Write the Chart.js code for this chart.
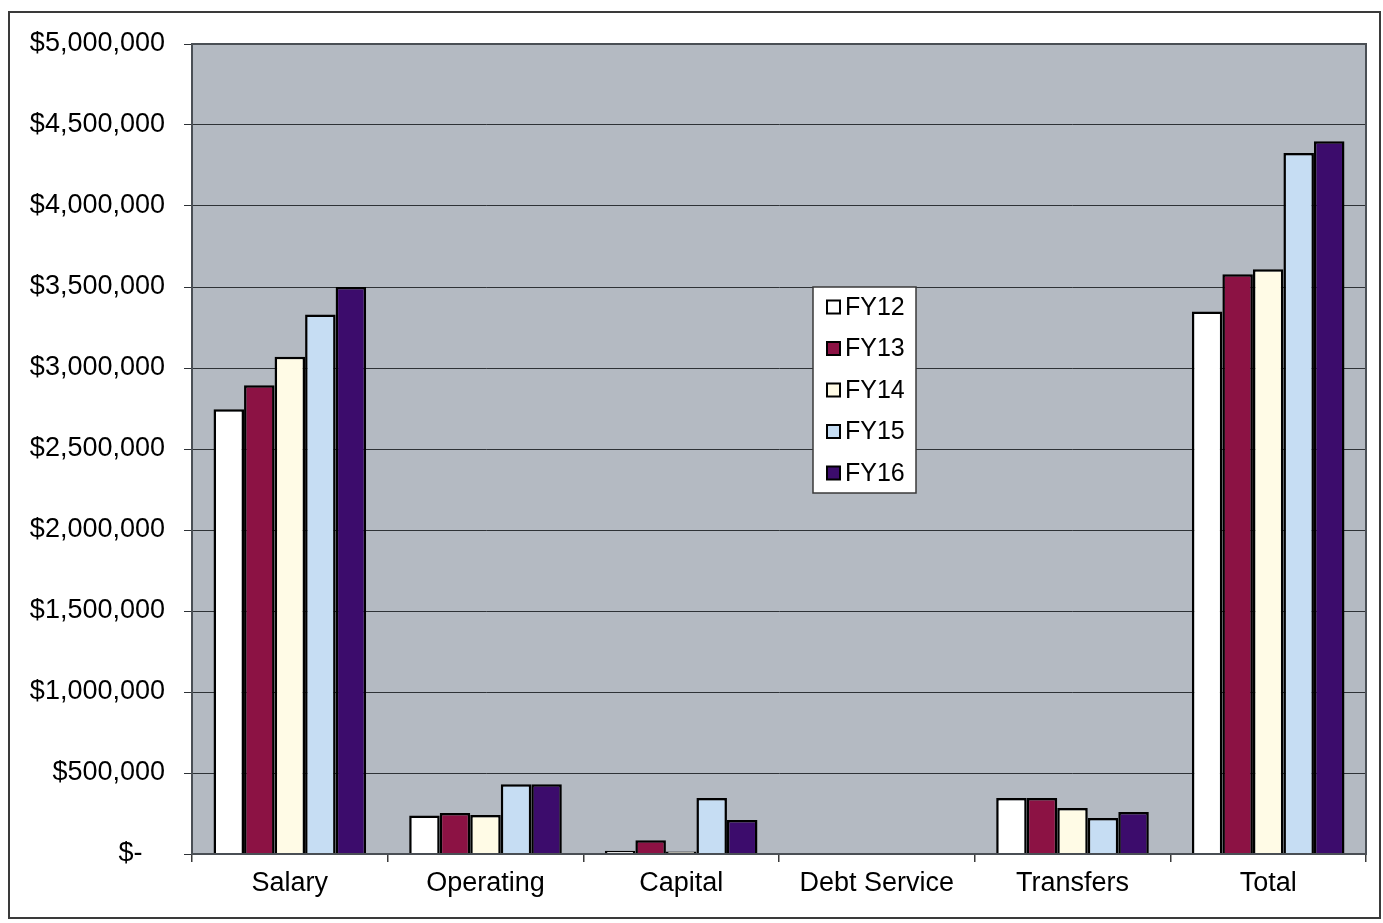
<!DOCTYPE html>
<html>
<head>
<meta charset="utf-8">
<title>Budget by Category FY12–FY16</title>
<script src="https://cdn.jsdelivr.net/npm/chart.js@4/dist/chart.umd.min.js"></script>
<style>
  html, body { margin: 0; padding: 0; background: #ffffff; }
  canvas { display: block; }
</style>
</head>
<body>
<canvas id="budgetChart" width="1383" height="923"></canvas>
<script>
// Budget categories along the x axis
const categories = ['Salary', 'Operating', 'Capital', 'Debt Service', 'Transfers', 'Total'];

// Fiscal-year series, one value per category (dollars)
const seriesNames = ['FY12', 'FY13', 'FY14', 'FY15', 'FY16'];
const fy12 = [2745000, 237000, 20000, 0, 346000, 3348000];
const fy13 = [2894000, 253000, 85000, 0, 346000, 3578000];
const fy14 = [3070000, 241000, 15000, 0, 284000, 3610000];
const fy15 = [3330000, 430000, 345000, 0, 222000, 4327000];
const fy16 = [3500000, 430000, 210000, 0, 259000, 4399000];
const seriesValues = [fy12, fy13, fy14, fy15, fy16];

// Value axis ticks
const yTickValues = [0, 500000, 1000000, 1500000, 2000000, 2500000, 3000000, 3500000, 4000000, 4500000, 5000000];

const seriesColors = ['#ffffff', '#8c1244', '#fffbe6', '#c6ddf3', '#3c0c6c'];
const FONT = '"Liberation Sans", Arial, sans-serif';

function formatDollars(v) {
  if (v === 0) return '$-   ';
  return '$' + v.toLocaleString('en-US');
}

// Page background, outer frame, plot area fill, plot border and the floating legend
const framePlugin = {
  id: 'frame',
  beforeDraw(chart) {
    const { ctx, chartArea: a } = chart;
    ctx.save();
    ctx.fillStyle = '#ffffff';
    ctx.fillRect(0, 0, chart.width, chart.height);
    ctx.strokeStyle = '#3a3a3a';
    ctx.lineWidth = 2;
    ctx.strokeRect(9, 12, 1371, 906);
    ctx.fillStyle = '#b4bac2';
    ctx.fillRect(a.left, a.top, a.right - a.left, a.bottom - a.top);
    ctx.restore();
  },
  afterDatasetsDraw(chart) {
    const { ctx, chartArea: a } = chart;
    ctx.save();
    ctx.strokeStyle = '#4a4f55';
    ctx.lineWidth = 2;
    ctx.strokeRect(a.left, a.top, a.right - a.left, a.bottom - a.top);
    ctx.restore();
  },
  afterDraw(chart) {
    const { ctx } = chart;
    const box = { x: 813, y: 287, w: 103, h: 206 };
    ctx.save();
    ctx.fillStyle = '#ffffff';
    ctx.fillRect(box.x, box.y, box.w, box.h);
    ctx.strokeStyle = '#3a3a3a';
    ctx.lineWidth = 1.5;
    ctx.strokeRect(box.x, box.y, box.w, box.h);
    ctx.font = '25px ' + FONT;
    ctx.textBaseline = 'middle';
    ctx.textAlign = 'left';
    chart.data.datasets.forEach((ds, i) => {
      const cy = 307 + i * 41.5;
      ctx.fillStyle = ds.backgroundColor;
      ctx.fillRect(827, cy - 6.5, 13, 13);
      ctx.strokeStyle = '#000000';
      ctx.lineWidth = 2;
      ctx.strokeRect(827, cy - 6.5, 13, 13);
      ctx.fillStyle = '#000000';
      ctx.fillText(ds.label, 845, cy + 1);
    });
    ctx.restore();
  }
};

new Chart(document.getElementById('budgetChart'), {
  type: 'bar',
  data: {
    labels: categories,
    datasets: seriesNames.map((name, i) => ({
      label: name,
      data: seriesValues[i],
      backgroundColor: seriesColors[i],
      borderColor: '#000000',
      borderWidth: 2.5,
      categoryPercentage: 0.78,
      barPercentage: 1.0
    }))
  },
  options: {
    responsive: false,
    animation: false,
    devicePixelRatio: 1,
    layout: { padding: { left: 0, top: 44, right: 17, bottom: 0 } },
    plugins: {
      legend: { display: false },
      tooltip: { enabled: false }
    },
    scales: {
      x: {
        offset: true,
        grid: {
          display: true,
          drawOnChartArea: false,
          drawTicks: true,
          tickLength: 8,
          color: '#3a3a3a',
          lineWidth: 1.5
        },
        border: { display: true, color: '#3a3a3a', width: 2 },
        ticks: {
          color: '#000000',
          font: { family: FONT, size: 27 },
          padding: 5,
          maxRotation: 0,
          autoSkip: false
        },
        afterFit(scale) { scale.height = 69; }
      },
      y: {
        min: 0,
        max: 5000000,
        afterBuildTicks(scale) {
          scale.ticks = yTickValues.map(v => ({ value: v }));
        },
        grid: {
          color: '#2e3236',
          lineWidth: 1,
          tickLength: 8
        },
        border: { display: true, color: '#3a3a3a', width: 2 },
        ticks: {
          color: '#000000',
          font: { family: FONT, size: 27 },
          padding: 19,
          callback: (v) => formatDollars(v)
        },
        afterFit(scale) { scale.width = 192; }
      }
    }
  },
  plugins: [framePlugin]
});
</script>
</body>
</html>
